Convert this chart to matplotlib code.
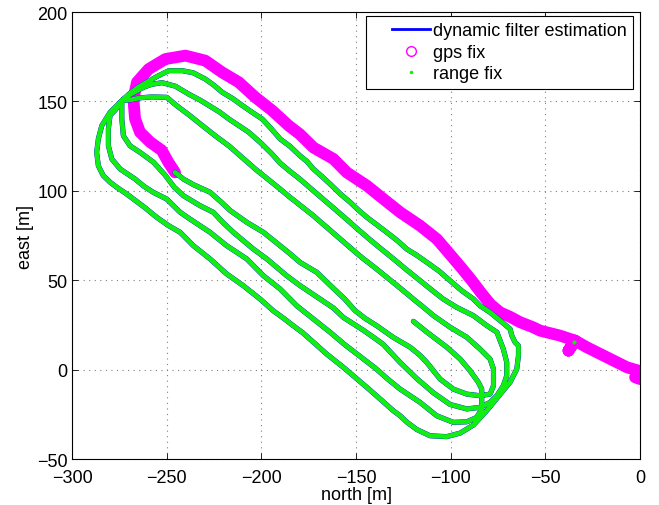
import matplotlib
matplotlib.use('Agg')
import numpy as np
import matplotlib.pyplot as plt
from matplotlib.lines import Line2D
from matplotlib.legend_handler import HandlerLine2D

# gps fix track (surface), from origin to the dive point
gps_x = [-2.6, 0.0, -0.8, -6.9, -17.5, -28.1, -34.3, -37.8, -34.3, -42.2, -52.8, -56.3, -63.3,
         -68.6, -73.9, -79.0, -84.0, -89.0, -94.0, -100.0, -107.3, -116.2, -126.7, -135.5,
         -144.3, -154.9, -161.9, -172.5, -179.6, -185.5, -194.3, -203.2, -211.9, -220.8,
         -229.6, -240.1, -250.7, -259.5, -265.7, -267.6, -266.7, -264.1, -258.8, -252.6,
         -249.1, -245.6]
gps_y = [-4.3, -5.3, -0.6, 1.3, 6.9, 12.5, 16.2, 10.6, 16.2, 19.0, 21.8, 23.6, 26.5,
         29.5, 32.0, 36.5, 43.0, 50.0, 56.5, 64.0, 73.0, 80.5, 88.0, 95.4,
         102.9, 110.3, 117.8, 124.2, 131.6, 136.4, 144.9, 152.3, 160.7, 166.3,
         172.8, 175.6, 173.7, 168.1, 160.7, 151.3, 140.2, 132.8, 127.3, 122.6,
         115.9, 110.3]

# submerged track, piece by piece
s_x = [-245.6, -241.2, -236.0, -227.1, -221.5, -216.5, -207.7, -198.9, -190.1, -184.5, -179.6,
       -170.7, -162.0, -156.0, -150.5, -145.0, -139.0, -130.3, -121.4, -116.2, -112.6, -105.6,
       -98.6, -91.5, -84.5, -79.2, -77.4, -77.4, -79.2, -84.5, -91.5, -100.3, -109.1, -114.5, -119.8]
s_y = [110.3, 106.6, 103.5, 99.2, 94.0, 89.0, 82.4, 76.8, 69.3, 64.5, 60.0,
       54.4, 45.5, 39.5, 33.0, 28.5, 24.5, 18.0, 12.5, 8.0, 4.0, -5.3,
       -10.9, -13.7, -14.6, -13.7, -9.0, 0.3, 5.9, 11.5, 18.1, 23.7, 30.2, 35.0, 39.5]

u3_x = [-119.8, -126.0, -133.0, -140.0, -146.1, -149.0, -155.0, -161.0, -167.0, -173.0, -179.0,
        -185.0, -190.1, -196.0, -203.0, -210.0, -217.0, -224.0, -230.6, -237.7, -244.7, -250.0,
        -258.0, -264.0, -268.5, -273.7]
u3_y = [39.5, 45.0, 51.0, 57.0, 62.0, 64.5, 70.0, 75.5, 81.0, 86.5, 91.5,
        96.5, 101.0, 106.0, 112.0, 118.5, 125.0, 130.5, 136.0, 142.0, 147.6, 152.3,
        152.5, 152.0, 151.0, 150.4]

l3_x = [-273.7, -273.7, -272.9, -269.4, -264.1, -257.0, -251.0, -246.0, -241.2, -232.4, -225.4,
        -220.0, -214.8, -204.2, -197.1, -186.6, -179.6, -169.0, -162.0, -156.7, -146.1, -140.0,
        -135.5, -126.7, -117.9, -109.1, -100.3, -91.5, -84.5, -79.2, -75.6, -72.2, -70.4, -70.4,
        -72.2, -75.6, -80.9, -88.0, -96.8, -104.0]
l3_y = [150.4, 140.2, 130.8, 125.2, 121.5, 116.0, 109.0, 102.0, 97.3, 91.7, 88.0,
        82.0, 76.8, 67.4, 61.9, 52.5, 47.0, 39.5, 34.5, 29.2, 22.0, 17.5,
        14.0, 4.0, -5.0, -13.0, -19.5, -22.0, -21.1, -18.3, -14.6, -9.0, -3.4, 4.1,
        11.5, 20.9, 24.6, 30.2, 34.8, 39.5]

u2_x = [-104.0, -110.0, -117.0, -123.5, -130.3, -137.3, -143.0, -149.6, -156.0, -162.0, -167.0,
        -173.0, -179.6, -185.0, -190.1, -194.3, -200.0, -206.7, -212.0, -217.2, -222.0, -227.8,
        -232.0, -238.4, -245.4, -252.5, -258.0, -262.0, -266.5, -270.0, -273.7]
u2_y = [39.5, 44.5, 50.5, 56.0, 62.0, 68.0, 73.0, 79.0, 85.0, 90.5, 95.0,
        100.5, 106.5, 111.0, 115.5, 120.5, 126.5, 132.8, 136.5, 140.2, 144.0, 147.8,
        150.5, 154.1, 158.5, 160.5, 159.5, 158.0, 155.5, 153.5, 150.4]

l1_x = [-273.7, -279.9, -284.3, -286.1, -287.0, -286.1, -283.5, -279.9, -276.4, -271.5, -267.6,
        -262.0, -255.3, -249.0, -242.9, -235.9, -227.1, -218.3, -209.5, -200.7, -193.7, -188.0,
        -183.1, -178.0, -172.5, -165.5, -156.7, -150.5, -144.3, -137.3, -130.3, -126.7, -123.0,
        -117.9, -110.9, -102.1, -95.0, -88.0, -81.0, -74.0, -68.6, -65.1, -64.2, -64.2, -66.0,
        -67.7, -68.6, -73.9, -79.2, -84.5, -88.0]
l1_y = [150.4, 143.9, 136.4, 129.0, 121.5, 114.0, 108.5, 104.8, 102.0, 98.5, 95.4,
        91.0, 85.2, 80.5, 76.8, 69.3, 61.9, 53.5, 46.9, 39.5, 32.9, 28.5,
        24.5, 20.5, 15.3, 8.7, 1.3, -4.3, -9.9, -16.4, -23.0, -25.8, -29.5,
        -33.5, -37.0, -37.5, -35.5, -31.0, -23.0, -14.0, -7.0, 0.3, 7.8, 13.4, 15.3,
        19.0, 22.7, 27.4, 32.0, 35.7, 39.5]

u1_x = [-88.0, -94.0, -100.3, -106.0, -112.6, -118.0, -123.2, -128.0, -133.8, -139.0, -144.3,
        -149.0, -153.1, -158.0, -163.7, -168.0, -172.5, -176.0, -179.6, -185.0, -190.1, -195.0,
        -199.6, -205.0, -210.2, -215.0, -220.8, -225.0, -229.6, -236.0, -241.9, -248.9, -255.0,
        -260.0, -265.0, -270.0, -273.7]
u1_y = [39.5, 44.0, 49.7, 55.0, 60.0, 64.0, 67.4, 72.0, 76.8, 81.0, 85.2,
        89.5, 93.6, 98.0, 103.8, 108.0, 112.2, 116.5, 119.6, 125.0, 129.0, 135.0,
        140.2, 144.0, 147.8, 151.5, 155.2, 159.0, 162.5, 166.0, 167.2, 167.2, 164.0,
        161.0, 158.0, 154.0, 150.4]

l2_x = [-273.7, -277.3, -279.9, -280.8, -280.8, -279.0, -274.6, -269.4, -266.7, -262.0, -257.0,
        -250.0, -242.9, -237.7, -227.1, -218.3, -207.7, -198.9, -190.1, -181.3, -172.5, -163.7,
        -156.0, -148.0, -140.0, -133.0, -126.7, -116.2, -107.4, -98.6, -91.5, -86.2, -83.6,
        -83.6, -83.6, -85.4, -89.8, -95.0, -102.0, -107.0, -112.6, -119.7]
l2_y = [150.4, 145.0, 142.2, 134.6, 125.2, 117.8, 112.2, 108.5, 106.6, 102.5, 99.1,
        95.4, 88.0, 84.2, 76.8, 69.3, 61.9, 52.5, 45.1, 35.7, 28.3, 20.9,
        14.0, 7.5, 1.0, -5.5, -10.9, -18.3, -25.8, -29.5, -29.2, -26.7, -22.0,
        -16.4, -10.9, -7.1, -0.6, 5.9, 12.5, 16.5, 21.0, 27.0]

# lone range fix on the surface leg
fix_x = [-34.8]
fix_y = [15.5]

pieces_x = [s_x, u3_x[1:], l3_x[1:], u2_x[1:], l1_x[1:], u1_x[1:], l2_x[1:]]
pieces_y = [s_y, u3_y[1:], l3_y[1:], u2_y[1:], l1_y[1:], u1_y[1:], l2_y[1:]]
track_x = np.concatenate(pieces_x)
track_y = np.concatenate(pieces_y)


class RightHandler(HandlerLine2D):
    # matlab style legend: line sits in the right part of the handle box
    def get_xdata(self, legend, xdescent, ydescent, width, height, fontsize):
        x0 = -xdescent + width * 0.345
        x1 = -xdescent + width
        return np.array([x0, x1]), np.array([(x0 + x1) / 2])


plt.rcParams['font.family'] = ['Liberation Sans', 'DejaVu Sans']

fig = plt.figure(figsize=(6.59, 5.06), dpi=100)
ax = fig.add_axes([0.1093, 0.0909, 0.8619, 0.8834])

magenta = '#ff00ff'
green = '#11ee11'
blue = '#0000ff'

ax.plot(gps_x, gps_y, color=magenta, lw=8.5, solid_capstyle='round',
        solid_joinstyle='round', zorder=2)
ax.plot(track_x, track_y, color=blue, lw=3.7, solid_capstyle='round',
        solid_joinstyle='round', zorder=3)
ax.plot(track_x, track_y, color=green, lw=3.4, solid_capstyle='round',
        solid_joinstyle='round', zorder=4)
ax.plot(fix_x, fix_y, '.', color=green, ms=4, zorder=5)

ax.set_xlim(-300, 0)
ax.set_ylim(-50, 200)
ax.set_xticks(np.arange(-300, 1, 50))
ax.set_yticks(np.arange(-50, 201, 50))
ax.set_axisbelow(True)
ax.grid(True, color='0.5', linestyle=(0, (1, 4)), lw=0.8)
ax.tick_params(direction='in', top=True, right=True, length=4, width=0.6,
               labelsize=13)
ax.tick_params(axis='x', pad=7)
ax.tick_params(axis='y', pad=3)
for sp in ax.spines.values():
    sp.set_linewidth(0.8)

ax.set_xlabel('north [m]', fontsize=13, labelpad=0)
ax.set_ylabel('east [m]', fontsize=13, labelpad=2)

handles = [Line2D([], [], color=blue, lw=2),
           Line2D([], [], ls='none', marker='o', mfc='none', mec=magenta, ms=7),
           Line2D([], [], ls='none', marker='.', color=green, ms=3)]
labels = ['dynamic filter estimation', 'gps fix', 'range fix']
leg = ax.legend(handles, labels, loc='upper right', bbox_to_anchor=(0.9877, 0.991),
                borderaxespad=0, fancybox=False, framealpha=1, edgecolor='black',
                fontsize=13, handlelength=3.2, handletextpad=0.17, labelspacing=0.25,
                borderpad=0.35, handler_map={Line2D: RightHandler()})
leg.get_frame().set_linewidth(0.8)

fig.savefig('out.png', dpi=100)
